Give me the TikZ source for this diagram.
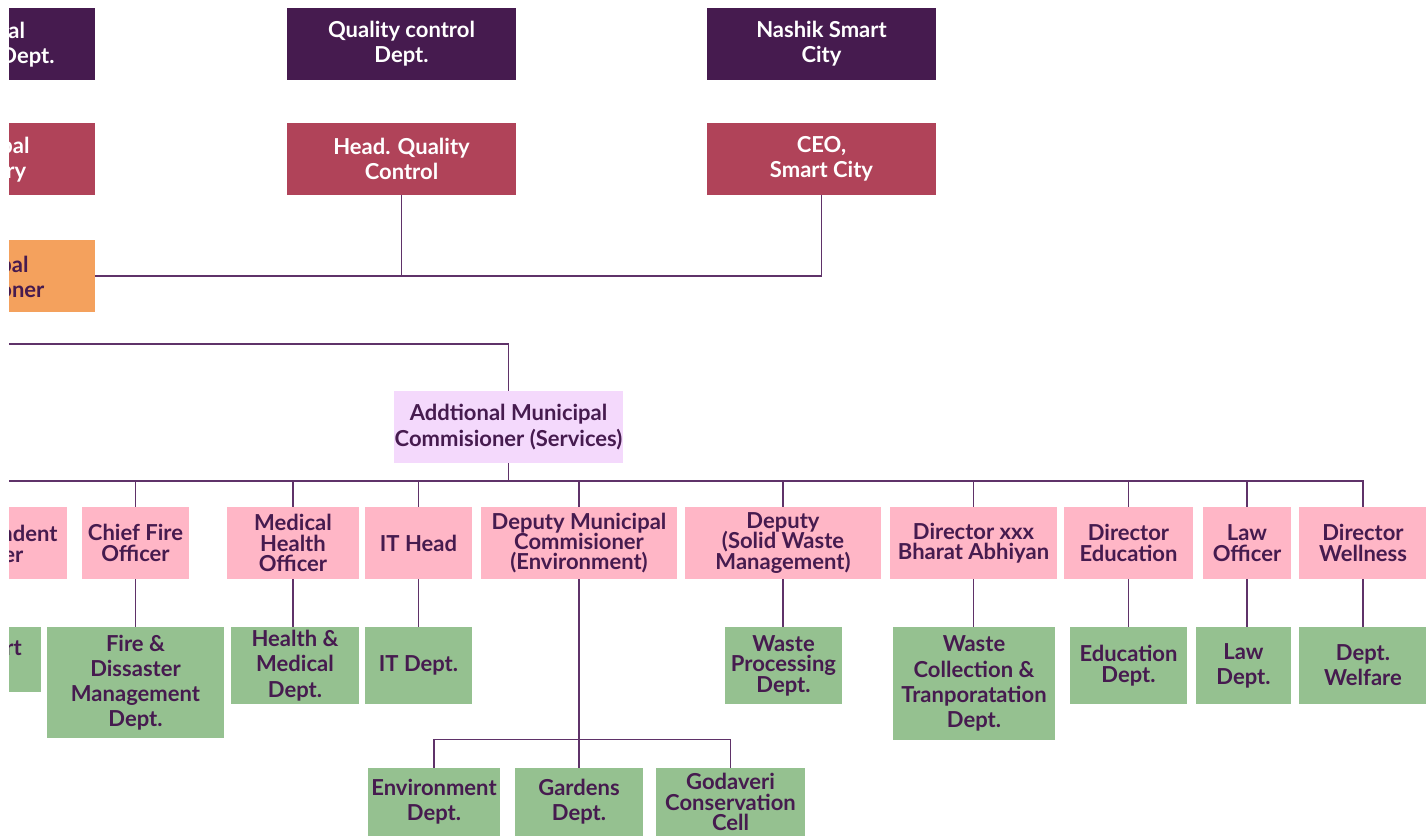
\documentclass[tikz,border=0pt]{standalone}
\usepackage{fontspec}
\setmainfont{Lato}
\usetikzlibrary{positioning}
\definecolor{deptdark}{RGB}{70,27,79}
\definecolor{headred}{RGB}{176,67,89}
\definecolor{commorange}{RGB}{244,161,93}
\definecolor{addlilac}{RGB}{244,217,252}
\definecolor{officerpink}{RGB}{255,182,198}
\definecolor{deptgreen}{RGB}{149,193,144}
\definecolor{linkcol}{RGB}{95,50,105}
\lineskiplimit=-6pt
\tikzset{
  tight/.style={font=\bfseries\fontsize{11}{10.2}\selectfont},
  loose/.style={font=\bfseries\fontsize{11}{12.6}\selectfont},
  wh/.style 2 args={minimum width=#1*0.5pt, minimum height=#2*0.5pt},
  box/.style={rectangle, inner sep=0pt, align=center, text=deptdark},
  topbox/.style={box, fill=deptdark, text=white, loose},
  headbox/.style={box, fill=headred, text=white, loose},
  offbox/.style={box, fill=officerpink, tight},
  greenbox/.style={box, fill=deptgreen},
  cut/.style={anchor=west, align=left, inner sep=0pt, text=deptdark},
  link/.style={draw=linkcol, line width=0.6pt}
}
\begin{document}
\begin{tikzpicture}[x=0.5pt, y=-0.5pt]
  \useasboundingbox (0,0) rectangle (1426,838);
  \begin{scope}
  \clip (9,0) rectangle (1426,838);

  % cut-off boxes on the left
  \fill[deptdark] (-40,8) rectangle (95,80);
  \node[cut, loose, text=white] (cuttop) at (0,45) {\hspace*{4pt}al\\Dept.};
  \fill[headred] (-40,123) rectangle (95,195);
  \node[cut, loose, text=white] (cutsec) at (0,160) {pal\\\hspace*{3pt}ry};
  \fill[commorange] (-40,240) rectangle (95,312);
  \node[cut, loose] (cutcomm) at (-1,277) {pal\\oner};
  \coordinate (commout) at (95,276);
  \fill[officerpink] (-40,507) rectangle (67,579);
  \node[cut, tight] (cutoff) at (0,544) {ndent\\\hspace*{1.5pt}er};
  \fill[deptgreen] (-40,627) rectangle (41,692);
  \node[cut, loose] (cutdept) at (5,648) {rt};

  % top departments
  \node[topbox, wh={229}{72}] (qcdept) at (401.5,44) {Quality control\\Dept.};
  \node[topbox, wh={229}{72}] (smartcity) at (821.5,44) {Nashik Smart\\City};
  \node[headbox, wh={229}{72}] (headqc) at (401.5,159) {Head. Quality\\Control};
  \node[headbox, wh={229}{72}] (ceo) at (821.5,159) {CEO,\\Smart City};

  \draw[link] (commout) -| (ceo.south);
  \draw[link] (headqc.south) -- (headqc.south |- commout);

  % additional commissioner
  \node[box, fill=addlilac, loose, wh={229}{72}] (amc) at (508.5,427)
    {Addtional Municipal\\Commisioner (Services)};
  \coordinate (amcin) at (-10,344);
  \draw[link] (amcin) -| (amc.north);

  % officers
  \node[offbox, wh={107}{72}] (cfo) at (135.5,543) {Chief Fire\\Officer};
  \node[offbox, wh={132}{72}] (mho) at (293,543) {Medical\\Health\\Officer};
  \node[offbox, wh={107}{72}] (ithead) at (418.5,543) {IT Head};
  \node[offbox, wh={196}{72}] (dmc) at (579,543) {Deputy Municipal\\Commisioner\\(Environment)};
  \node[offbox, wh={196}{72}] (dswm) at (783,543) {Deputy\\(Solid Waste\\Management)};
  \node[offbox, wh={167}{72}] (dirsba) at (973.5,543) {Director xxx\\Bharat Abhiyan};
  \node[offbox, wh={129}{72}] (diredu) at (1128.5,543) {Director\\Education};
  \node[offbox, wh={88}{72}] (lawoff) at (1247,543) {Law\\Officer};
  \node[offbox, wh={128}{72}] (dirwell) at (1363,543) {Director\\Wellness};

  \coordinate (busin) at (-10,481);
  \draw[link] (amc.south) -- (amc.south |- busin);
  \draw[link] (busin) -| (dirwell.north);
  \foreach \p in {cfo,mho,ithead,dmc,dswm,dirsba,diredu,lawoff}
    \draw[link] (\p.north) -- (\p.north |- busin);

  % departments
  \node[greenbox, loose, wh={177}{111}] (fire) at (135.5,682.5) {Fire \&\\Dissaster\\Management\\Dept.};
  \node[greenbox, loose, wh={128}{77}] (health) at (295,665.5) {Health \&\\Medical\\Dept.};
  \node[greenbox, loose, wh={107}{77}] (itdept) at (418.5,665.5) {IT Dept.};
  \node[greenbox, tight, wh={117}{77}] (wproc) at (783.5,665.5) {Waste\\Processing\\Dept.};
  \node[greenbox, loose, wh={162}{113}] (wcoll) at (974,683.5) {Waste\\Collection \&\\Tranporatation\\Dept.};
  \node[greenbox, tight, wh={117}{77}] (edudept) at (1128.5,665.5) {Education\\Dept.};
  \node[greenbox, loose, wh={95}{77}] (lawdept) at (1243.5,665.5) {Law\\Dept.};
  \node[greenbox, loose, wh={128}{77}] (welfare) at (1363,665.5) {Dept.\\Welfare};

  \foreach \p/\g in {cfo/fire, mho/health, ithead/itdept, dswm/wproc,
                     dirsba/wcoll, diredu/edudept, lawoff/lawdept, dirwell/welfare}
    \draw[link] (\p.south) -- (\p.south |- \g.north);

  % environment cells
  \node[greenbox, loose, wh={132}{68}] (envdept) at (434,802) {Environment\\Dept.};
  \node[greenbox, loose, wh={128}{68}] (gardens) at (579,802) {Gardens\\Dept.};
  \node[greenbox, tight, wh={149}{68}] (godaveri) at (730.5,802) {Godaveri\\Conservation\\Cell};

  \draw[link] (dmc.south) -- (gardens.north);
  \draw[link] (envdept.north) -- ++(0,-28) -| (godaveri.north);
  \end{scope}
\end{tikzpicture}
\end{document}
